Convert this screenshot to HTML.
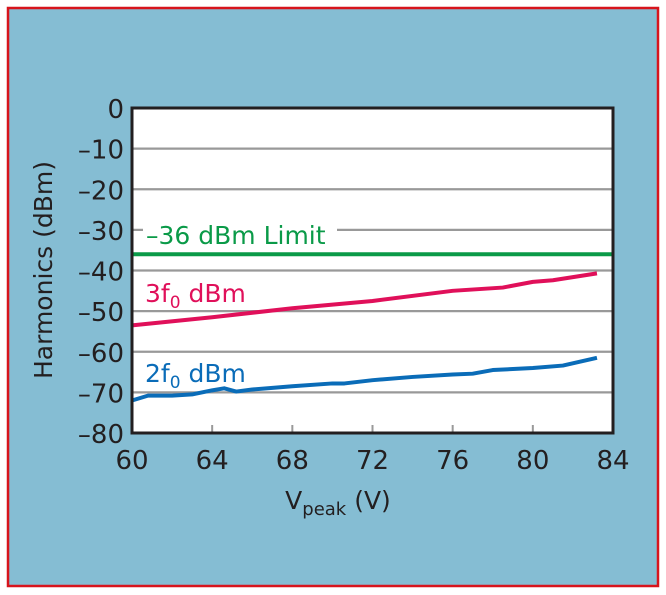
<!DOCTYPE html>
<html><head><meta charset="utf-8"><style>
html,body{margin:0;padding:0;background:#fff;width:666px;height:595px;overflow:hidden}
svg{display:block;font-family:"DejaVu Sans","Liberation Sans",sans-serif}
</style></head><body>
<svg width="666" height="595">
<rect x="8" y="8" width="650" height="578" fill="#85bdd3" stroke="#d7141c" stroke-width="2.5"/>
<g id="plot"></g>
</svg>
<script>
const xTicks=[60,64,68,72,76,80,84];
const yTicks=[0,-10,-20,-30,-40,-50,-60,-70,-80];
const limitValue=-36;
const x3=[60,64,68,72,76,78.5,80,81,83.2];
const y3=[-53.5,-51.5,-49.3,-47.5,-45,-44.2,-42.8,-42.4,-40.7];
const x2=[60,60.8,62,63,64,64.6,65.2,66,68,70,70.6,72,74,76,77,78,80,81.5,83.2];
const y2=[-72,-70.8,-70.8,-70.5,-69.5,-69,-69.8,-69.3,-68.5,-67.8,-67.8,-67,-66.2,-65.6,-65.4,-64.5,-64,-63.4,-61.5];
const L=132,R=613,T=108,B=433;
const sx=v=>L+(v-60)/24*(R-L);
const sy=v=>T+(0-v)/80*(B-T);
const g=document.getElementById('plot');
const NS='http://www.w3.org/2000/svg';
function mk(t,a){const e=document.createElementNS(NS,t);for(const k in a)e.setAttribute(k,a[k]);g.appendChild(e);return e;}
let bg=mk('rect',{x:L,y:T,width:R-L,height:B-T,fill:'#fff'});


yTicks.forEach(v=>{
 if(v!==0&&v!==-80){let l=mk('line',{x1:L,x2:R,y1:sy(v),y2:sy(v),stroke:'#999','stroke-width':2.2});
 
 }
 let t=mk('text',{x:L-8,y:sy(v)+10,'text-anchor':'end','font-size':26,fill:'#231f20'});
 t.textContent=(v<0?'\u2013'+(-v):v);
 
 
});
xTicks.forEach(v=>{
 if(v!==60&&v!==84){let l=mk('line',{x1:sx(v),x2:sx(v),y1:B,y2:B-8,stroke:'#999','stroke-width':2});
 
 }
 let t=mk('text',{x:sx(v),y:B+36,'text-anchor':'middle','font-size':26,fill:'#231f20'});
 t.textContent=v;
 
 
});
let lim=mk('line',{x1:L,x2:R,y1:sy(limitValue),y2:sy(limitValue),stroke:'#0a9a48','stroke-width':4});


function series(xs,ys,c,n){let p=mk('polyline',{points:xs.map((x,i)=>sx(x)+','+sy(ys[i])).join(' '),fill:'none',stroke:c,'stroke-width':4,'stroke-linejoin':'round'});

}
series(x3,y3,'#e0105a','series-3f0');
series(x2,y2,'#0a6cb8','series-2f0');
let fr=mk('rect',{x:L,y:T,width:R-L,height:B-T,fill:'none',stroke:'#231f20','stroke-width':3});


function lbl(x,y,html,c,n){let t=mk('text',{x:x,y:y,'font-size':25,fill:c});t.innerHTML=html;

return t;}
let lt=mk('rect',{x:143,y:222,width:194,height:26,fill:'#fff'});


lbl(146,244,'\u201336 dBm Limit','#0a9a48','limit-label');
lbl(145,302,'3f<tspan font-size="17" dy="6">0</tspan><tspan dy="-6"> dBm</tspan>','#e0105a','label-3f0');
lbl(145,382,'2f<tspan font-size="17" dy="6">0</tspan><tspan dy="-6"> dBm</tspan>','#0a6cb8','label-2f0');
let yt=mk('text',{transform:'translate(52,270) rotate(-90)','text-anchor':'middle','font-size':25,fill:'#231f20'});
yt.textContent='Harmonics (dBm)';


let xt=mk('text',{x:338,y:509,'text-anchor':'middle','font-size':25,fill:'#231f20'});
xt.innerHTML='V<tspan font-size="18" dy="6">peak</tspan><tspan dy="-6"> (V)</tspan>';


</script>
</body></html>
